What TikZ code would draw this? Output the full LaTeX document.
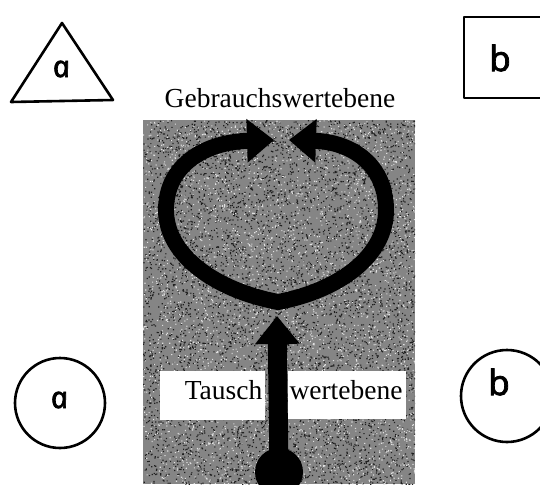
\documentclass[tikz,border=0pt]{standalone}
\usepackage{fontspec}
\setmainfont{Liberation Serif}
\newfontfamily\handfont{Noto Sans}[FakeBold=2.2, ItalicFeatures={FakeSlant=-0.2, FakeBold=2.2}]
\usetikzlibrary{arrows.meta}
\tikzset{
  outline/.style={line width=2.6pt, line join=round},
  letter a/.style={font=\handfont\itshape\fontsize{30}{30}\selectfont, inner sep=0pt},
  letter b/.style={font=\handfont\fontsize{35}{35}\selectfont, inner sep=0pt},
  caption/.style={font=\fontsize{27.5}{27.5}\selectfont, inner sep=0pt, anchor=base},
  labelbox/.style={fill=white, draw=none},
  flow/.style={line width=16pt, line join=miter, miter limit=20,
    {Triangle[length=27pt,width=42pt]}-{Triangle[length=27pt,width=42pt]}},
  stem/.style={line width=19pt, -{Triangle[length=28pt,width=43pt]}},
}
\begin{document}
\begin{tikzpicture}[x=1pt, y={(0,-1pt)}]
  \useasboundingbox (0,0) rectangle (540,484);
  \clip (0,0) rectangle (540,484);
  \fill[white] (0,0) rectangle (540,484);

  % corner symbols
  \draw[outline] (62,23) -- (113,100) -- (11,102) -- cycle;
  \node[letter a] (ta) at (63,69) {a};
  \draw[outline] (560,17) -- (464,17) -- (464,98) -- (560,98);
  \node[letter b] (bb) at (500,58) {b};
  \draw[outline] (60,403) circle[radius=45];
  \node[letter a] (ca) at (61,400) {a};
  \draw[outline] (507,396) circle[radius=46];
  \node[letter b] (cb) at (499,382) {b};

  % photographed panel with grain
  \fill[black!48] (143,120) rectangle (415,484);
  \pgfmathsetseed{7}
  \begin{scope}
    \clip (143,120) rectangle (415,484);
    \fill[black!88] \foreach \i in {1,...,6000} {
      ({143+272*rnd},{120+364*rnd}) rectangle ++(1.2,1.2) };
    \fill[black!12] \foreach \i in {1,...,3500} {
      ({143+272*rnd},{120+364*rnd}) rectangle ++(1.1,1.1) };
  \end{scope}

  \node[caption] (gw) at (280,107) {Gebrauchswertebene};

  % loop of use value
  \coordinate (lt) at (274,140);
  \coordinate (rt) at (289,140);
  \coordinate (cusp) at (278,302);
  \draw[flow] (lt) .. controls (205,142) and (166,165) .. (166,210)
    .. controls (166,255) and (215,290) .. (cusp)
    .. controls (341,290) and (386,255) .. (386,210)
    .. controls (386,165) and (352,142) .. (rt);

  % exchange value labels
  \fill[labelbox] (160,371) rectangle (265,420);
  \fill[labelbox] (288,371) rectangle (406,419);
  \node[caption] (ta2) at (223.5,399.5) {Tausch};
  \node[caption] (we) at (346,399.5) {wertebene};

  % stem with root
  \node[circle, fill=black, minimum size=48pt, inner sep=0pt] (root) at (279,472) {};
  \coordinate (tip) at (277,316);
  \draw[stem] (root.center) -- (tip);
\end{tikzpicture}
\end{document}
